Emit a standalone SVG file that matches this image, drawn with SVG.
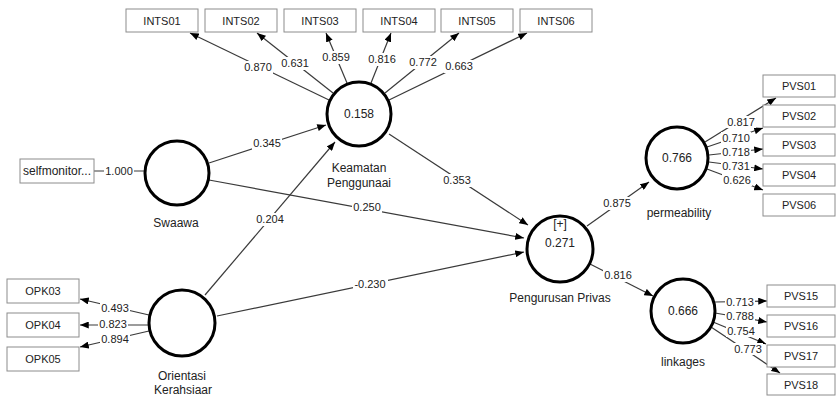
<svg xmlns="http://www.w3.org/2000/svg" width="836" height="396" viewBox="0 0 836 396">
<defs>
<marker id="ah" viewBox="0 0 10 8" refX="10" refY="4" markerWidth="9" markerHeight="7" markerUnits="userSpaceOnUse" orient="auto">
<path d="M0,0 L10,4 L0,8 z" fill="#000"/>
</marker>
</defs>
<style>
text{font-family:"Liberation Sans",Arial,sans-serif;fill:#222}
.ln{stroke:#3a3a3a;stroke-width:1.2;fill:none}
.a{marker-end:url(#ah)}
.lb{fill:#fff;stroke:none}
.cf{font-size:11px;text-anchor:middle}
.bx rect{fill:#fff;stroke:#8c8c8c;stroke-width:1}
.bx text{font-size:11px;text-anchor:middle}
.lv circle{fill:#fff;stroke:#000;stroke-width:3}
.lv text{font-size:12px;text-anchor:middle}
</style>
<rect width="836" height="396" fill="#fff"/>
<g id="connectors">
<!-- Keamatan indicators -->
<line class="ln a" x1="329" y1="100" x2="190" y2="33"/>
<line class="ln a" x1="333" y1="93" x2="257" y2="33"/>
<line class="ln a" x1="347" y1="83" x2="326" y2="33"/>
<line class="ln a" x1="371" y1="83" x2="391" y2="33"/>
<line class="ln a" x1="385" y1="93" x2="459" y2="33"/>
<line class="ln a" x1="389" y1="100" x2="527" y2="33"/>
<!-- selfmonitor -->
<line class="ln" x1="94" y1="171" x2="145" y2="171"/>
<!-- OPK -->
<line class="ln a" x1="149" y1="315" x2="80" y2="299"/>
<line class="ln a" x1="149" y1="325" x2="80" y2="325"/>
<line class="ln a" x1="149" y1="331" x2="80" y2="347"/>
<!-- structural -->
<line class="ln a" x1="209" y1="163" x2="326" y2="125"/>
<line class="ln a" x1="209" y1="180" x2="524" y2="238"/>
<line class="ln a" x1="389" y1="134" x2="528" y2="225"/>
<line class="ln a" x1="205" y1="295" x2="335" y2="142"/>
<line class="ln a" x1="217" y1="316" x2="524" y2="252"/>
<line class="ln a" x1="587" y1="226" x2="649" y2="182"/>
<line class="ln a" x1="590" y1="264" x2="653" y2="296"/>
<!-- permeability indicators -->
<line class="ln a" x1="705" y1="142" x2="776" y2="98"/>
<line class="ln a" x1="707" y1="147" x2="763" y2="128"/>
<line class="ln a" x1="709" y1="155" x2="763" y2="149"/>
<line class="ln a" x1="709" y1="162" x2="763" y2="169"/>
<line class="ln a" x1="707" y1="169" x2="763" y2="190"/>
<!-- linkages indicators -->
<line class="ln a" x1="715" y1="302" x2="767" y2="301"/>
<line class="ln a" x1="715" y1="313" x2="767" y2="322"/>
<line class="ln a" x1="713" y1="322" x2="766" y2="344"/>
<line class="ln a" x1="711" y1="327" x2="780" y2="373"/>
<!-- labels -->
<g>
<rect class="lb" x="243" y="61" width="30" height="13"/><text class="cf" x="258" y="71">0.870</text>
<rect class="lb" x="280" y="57" width="30" height="13"/><text class="cf" x="295" y="67">0.631</text>
<rect class="lb" x="321" y="51" width="30" height="13"/><text class="cf" x="336" y="61">0.859</text>
<rect class="lb" x="367" y="53" width="30" height="13"/><text class="cf" x="382" y="63">0.816</text>
<rect class="lb" x="408" y="56" width="30" height="13"/><text class="cf" x="423" y="66">0.772</text>
<rect class="lb" x="444" y="60" width="30" height="13"/><text class="cf" x="459" y="70">0.663</text>
<rect class="lb" x="104" y="165" width="30" height="13"/><text class="cf" x="119" y="175">1.000</text>
<rect class="lb" x="100" y="302" width="30" height="12"/><text class="cf" x="115" y="312">0.493</text>
<rect class="lb" x="98" y="318" width="30" height="12"/><text class="cf" x="113" y="328">0.823</text>
<rect class="lb" x="100" y="333" width="30" height="12"/><text class="cf" x="115" y="343">0.894</text>
<rect class="lb" x="252" y="137" width="30" height="13"/><text class="cf" x="267" y="147">0.345</text>
<rect class="lb" x="352" y="201" width="30" height="13"/><text class="cf" x="367" y="211">0.250</text>
<rect class="lb" x="442" y="174" width="30" height="13"/><text class="cf" x="457" y="184">0.353</text>
<rect class="lb" x="255" y="213" width="30" height="13"/><text class="cf" x="270" y="223">0.204</text>
<rect class="lb" x="353" y="278" width="35" height="13"/><text class="cf" x="370" y="288">-0.230</text>
<rect class="lb" x="602" y="197" width="30" height="13"/><text class="cf" x="617" y="207">0.875</text>
<rect class="lb" x="603" y="269" width="30" height="13"/><text class="cf" x="618" y="279">0.816</text>
<rect class="lb" x="726" y="116" width="30" height="12"/><text class="cf" x="741" y="126">0.817</text>
<rect class="lb" x="721" y="132" width="30" height="12"/><text class="cf" x="736" y="142">0.710</text>
<rect class="lb" x="721" y="146" width="30" height="12"/><text class="cf" x="736" y="156">0.718</text>
<rect class="lb" x="721" y="160" width="30" height="12"/><text class="cf" x="736" y="170">0.731</text>
<rect class="lb" x="722" y="174" width="30" height="12"/><text class="cf" x="737" y="184">0.626</text>
<rect class="lb" x="725" y="296" width="30" height="12"/><text class="cf" x="740" y="306">0.713</text>
<rect class="lb" x="725" y="310" width="30" height="12"/><text class="cf" x="740" y="320">0.788</text>
<rect class="lb" x="726" y="325" width="30" height="12"/><text class="cf" x="741" y="335">0.754</text>
<rect class="lb" x="733" y="343" width="30" height="12"/><text class="cf" x="748" y="353">0.773</text>
</g>
</g>
<g id="INTS01" class="bx"><rect x="126" y="9" width="72" height="23"/><text x="162" y="24.5">INTS01</text></g>
<g id="INTS02" class="bx"><rect x="205" y="9" width="72" height="23"/><text x="241" y="24.5">INTS02</text></g>
<g id="INTS03" class="bx"><rect x="284" y="9" width="72" height="23"/><text x="320" y="24.5">INTS03</text></g>
<g id="INTS04" class="bx"><rect x="363" y="9" width="72" height="23"/><text x="399" y="24.5">INTS04</text></g>
<g id="INTS05" class="bx"><rect x="441" y="9" width="72" height="23"/><text x="477" y="24.5">INTS05</text></g>
<g id="INTS06" class="bx"><rect x="520" y="9" width="72" height="23"/><text x="556" y="24.5">INTS06</text></g>
<g id="selfmonitor" class="bx"><rect x="20" y="159" width="74" height="24"/><text x="57" y="175" style="font-size:12px">selfmonitor...</text></g>
<g id="OPK03" class="bx"><rect x="7" y="279" width="72" height="24"/><text x="43" y="295">OPK03</text></g>
<g id="OPK04" class="bx"><rect x="7" y="313" width="72" height="24"/><text x="43" y="329">OPK04</text></g>
<g id="OPK05" class="bx"><rect x="7" y="347" width="72" height="24"/><text x="43" y="363">OPK05</text></g>
<g id="PVS01" class="bx"><rect x="763" y="75" width="72" height="22"/><text x="799" y="90">PVS01</text></g>
<g id="PVS02" class="bx"><rect x="763" y="105" width="72" height="22"/><text x="799" y="120">PVS02</text></g>
<g id="PVS03" class="bx"><rect x="763" y="134" width="72" height="22"/><text x="799" y="149">PVS03</text></g>
<g id="PVS04" class="bx"><rect x="763" y="164" width="72" height="22"/><text x="799" y="179">PVS04</text></g>
<g id="PVS06" class="bx"><rect x="763" y="194" width="72" height="22"/><text x="799" y="209">PVS06</text></g>
<g id="PVS15" class="bx"><rect x="767" y="285" width="68" height="22"/><text x="801" y="300">PVS15</text></g>
<g id="PVS16" class="bx"><rect x="767" y="315" width="68" height="22"/><text x="801" y="330">PVS16</text></g>
<g id="PVS17" class="bx"><rect x="767" y="345" width="68" height="22"/><text x="801" y="360">PVS17</text></g>
<g id="PVS18" class="bx"><rect x="767" y="374" width="68" height="21"/><text x="801" y="389">PVS18</text></g>
<g id="Keamatan" class="lv"><circle cx="359" cy="114" r="32"/><text x="359" y="118">0.158</text><text x="359" y="172">Keamatan</text><text x="359" y="187">Penggunaai</text></g>
<g id="Swaawa" class="lv"><circle cx="177" cy="173" r="32"/><text x="176" y="227">Swaawa</text></g>
<g id="Orientasi" class="lv"><circle cx="182" cy="323" r="33"/><text x="182" y="380">Orientasi</text><text x="183" y="394">Kerahsiaar</text></g>
<g id="Pengurusan" class="lv"><circle cx="560" cy="249" r="33"/><text x="560" y="228">[+]</text><text x="560" y="247">0.271</text><text x="560" y="302">Pengurusan Privas</text></g>
<g id="permeability" class="lv"><circle cx="677" cy="158" r="31"/><text x="677" y="162">0.766</text><text x="679" y="217">permeability</text></g>
<g id="linkages" class="lv"><circle cx="683" cy="311" r="32"/><text x="683" y="315">0.666</text><text x="683" y="366">linkages</text></g>
</svg>
